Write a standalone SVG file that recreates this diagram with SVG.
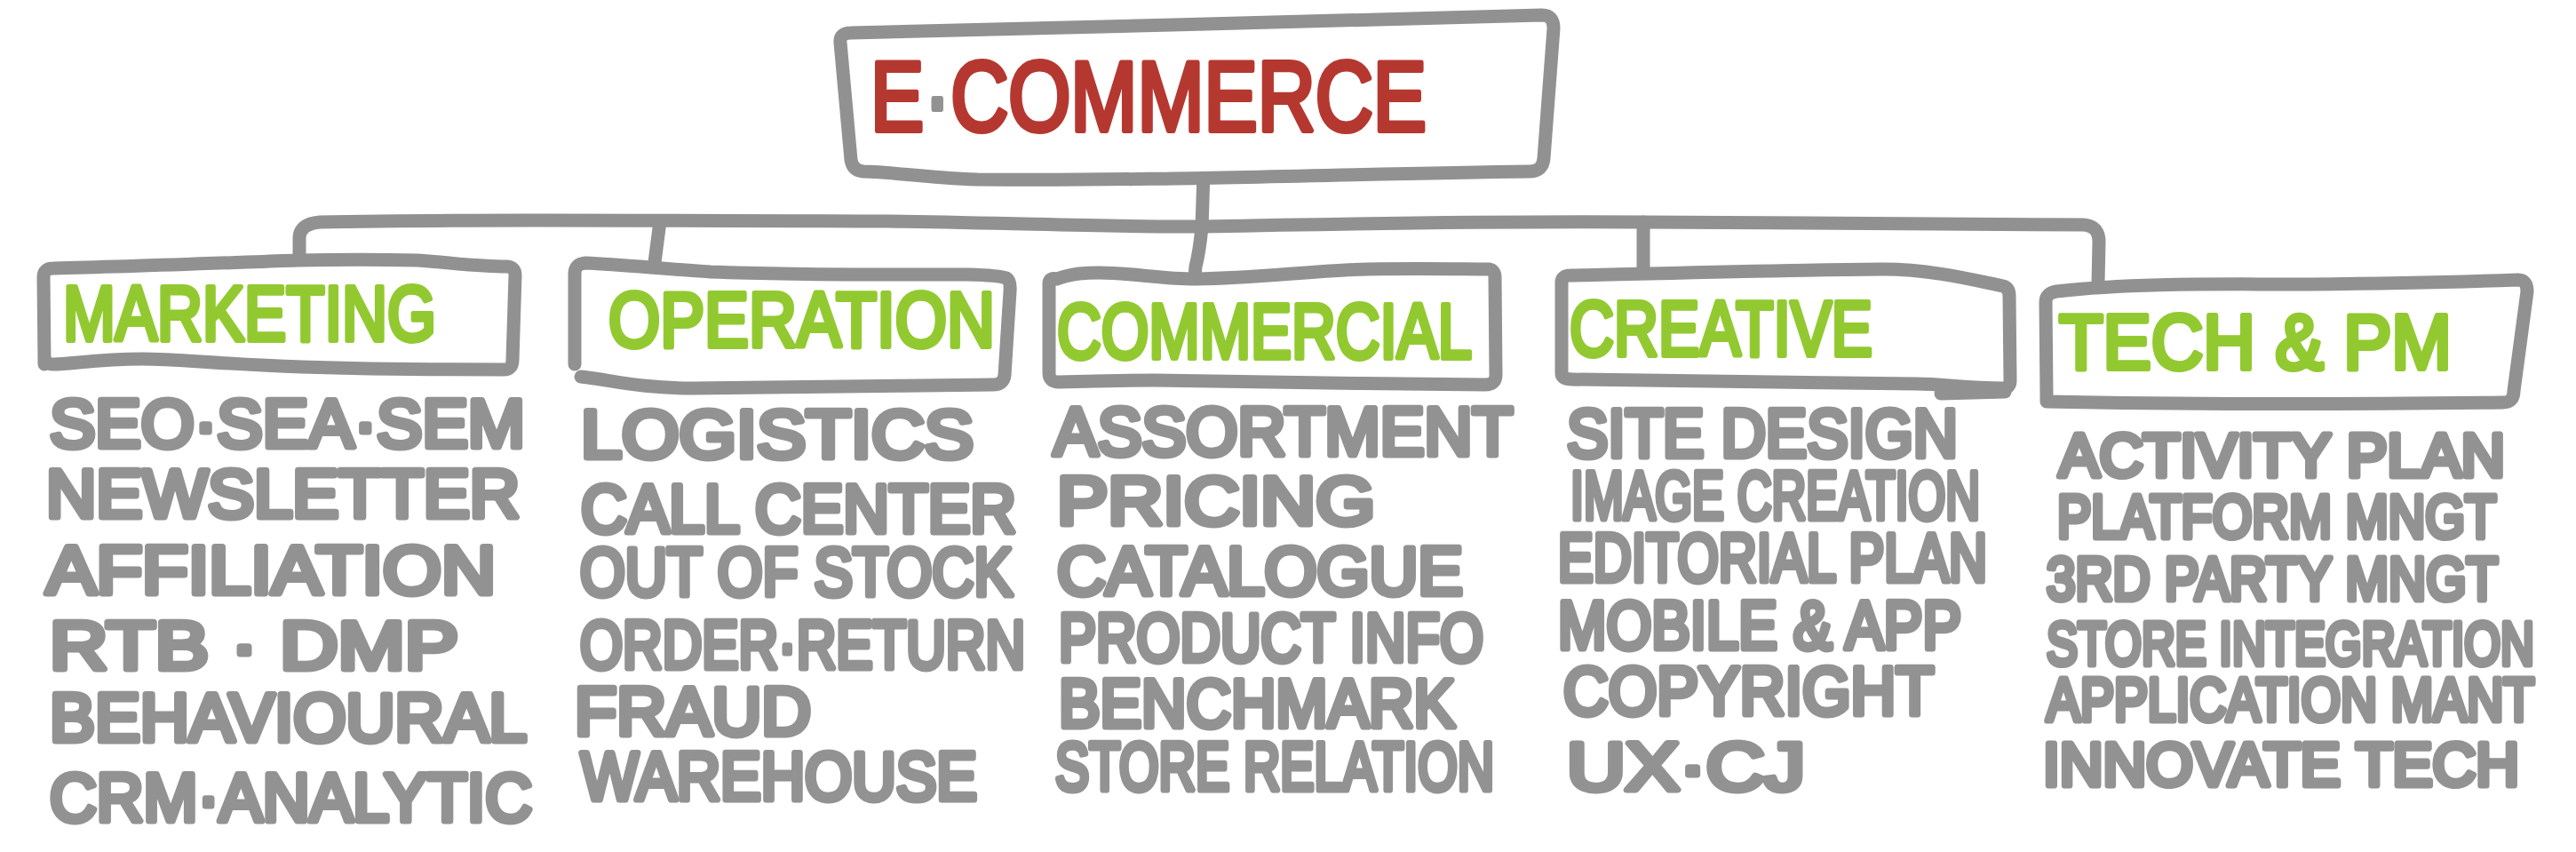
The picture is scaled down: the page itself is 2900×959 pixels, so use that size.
<svg xmlns="http://www.w3.org/2000/svg" width="2900" height="959" viewBox="0 0 2900 959">
<style>
.box{fill:#ffffff;stroke:#919191;stroke-width:15;stroke-linecap:round;stroke-linejoin:round}
.conn{fill:none;stroke:#919191;stroke-width:15;stroke-linecap:round;stroke-linejoin:round}
text{font-family:"Liberation Sans",Arial,sans-serif;stroke-linejoin:round;stroke-linecap:round}
.title{font-size:112px;fill:#b53830;stroke:#b53830;stroke-width:6}
.dot{fill:#929292;stroke:#929292}
.cat{font-size:88px;fill:#92c930;stroke:#92c930;stroke-width:6}
.item{font-size:76px;fill:#929292;stroke:#929292;stroke-width:7}
.item2{font-size:68px;fill:#929292;stroke:#929292;stroke-width:7;text-anchor:end}
</style>
<rect width="2900" height="959" fill="#ffffff"/>
<g id="connectors">
<path class="conn" d="M 337 300 L 337 268 Q 337 252 360 250 C 500 247 700 248 1000 249 C 1150 251 1250 256 1353 255 C 1500 252 1700 249 1850 250 C 2100 250 2250 252 2345 253 Q 2363 254 2363 272 L 2362 318"/>
<path class="conn" d="M 743 249 L 736 303"/>
<path class="conn" d="M 1355 194 L 1353 256 Q 1350 285 1346 300 L 1345 312"/>
<path class="conn" d="M 1850 250 L 1850 307"/>
</g>
<g id="node-ecommerce">
<path class="box" d="M 946 48 Q 945 37 958 37 C 1200 31 1500 24 1736 17 Q 1749 17 1749 32 L 1738 178 Q 1737 193 1722 193 C 1500 196 1300 204 1100 202 C 1040 200 1000 193 972 193 Q 960 192 958 180 Z"/>
<text class="title" x="980" y="147" textLength="626" lengthAdjust="spacingAndGlyphs">E<tspan class="dot">·</tspan>COMMERCE</text>
</g>
<g id="node-marketing">
<path class="box" d="M 50 410 L 49 312 Q 49 302 60 302 C 150 300 250 296 335 293 C 380 292 430 292 470 293 C 510 296 540 300 570 300 Q 580 300 580 310 L 577 405 Q 577 416 567 416 C 480 416 400 415 340 413 C 250 410 200 404 160 404 C 110 404 80 410 60 410 Q 50 410 50 400 Z"/>
<text class="cat" x="71" y="383" textLength="420" lengthAdjust="spacingAndGlyphs">MARKETING</text>
<text class="item" x="56" y="503" textLength="535" lengthAdjust="spacingAndGlyphs">SEO·SEA·SEM</text>
<text class="item" x="52" y="582" textLength="533" lengthAdjust="spacingAndGlyphs">NEWSLETTER</text>
<text class="item" x="52" y="668" textLength="506" lengthAdjust="spacingAndGlyphs">AFFILIATION</text>
<text class="item" x="56" y="753" textLength="460" lengthAdjust="spacingAndGlyphs">RTB · DMP</text>
<text class="item" x="56" y="834" textLength="537" lengthAdjust="spacingAndGlyphs">BEHAVIOURAL</text>
<text class="item" x="56" y="924" textLength="543" lengthAdjust="spacingAndGlyphs">CRM·ANALYTIC</text>
</g>
<g id="node-operation">
<path class="box" d="M 647 410 L 647 308 Q 647 297 659 296 C 700 298 740 302 800 306 C 900 310 1000 309 1090 309 Q 1125 310 1133 313 Q 1138 316 1137 328 L 1131 422 Q 1130 433 1118 433 C 1000 434 850 437 780 437 C 720 437 690 428 654 424"/>
<text class="cat" x="685" y="390" textLength="435" lengthAdjust="spacingAndGlyphs">OPERATION</text>
<text class="item" x="654" y="515" textLength="442" lengthAdjust="spacingAndGlyphs">LOGISTICS</text>
<text class="item" x="654" y="599" textLength="490" lengthAdjust="spacingAndGlyphs">CALL CENTER</text>
<text class="item" x="653" y="670" textLength="487" lengthAdjust="spacingAndGlyphs">OUT OF STOCK</text>
<text class="item" x="653" y="752" textLength="501" lengthAdjust="spacingAndGlyphs">ORDER·RETURN</text>
<text class="item" x="647" y="827" textLength="266" lengthAdjust="spacingAndGlyphs">FRAUD</text>
<text class="item" x="654" y="900" textLength="446" lengthAdjust="spacingAndGlyphs">WAREHOUSE</text>
</g>
<g id="node-commercial">
<path class="box" d="M 1181 420 L 1181 318 Q 1182 312 1190 314 Q 1200 310 1215 308 C 1260 304 1300 314 1346 314 C 1420 313 1470 305 1540 303 C 1600 302 1650 303 1676 303 Q 1683 304 1683 312 L 1684 422 Q 1684 433 1672 433 C 1550 432 1400 430 1300 428 C 1250 428 1220 429 1192 430 Q 1181 430 1181 420 Z"/>
<text class="cat" x="1190" y="403" textLength="467" lengthAdjust="spacingAndGlyphs">COMMERCIAL</text>
<text class="item" x="1186" y="512" textLength="517" lengthAdjust="spacingAndGlyphs">ASSORTMENT</text>
<text class="item" x="1190" y="590" textLength="358" lengthAdjust="spacingAndGlyphs">PRICING</text>
<text class="item" x="1190" y="669" textLength="457" lengthAdjust="spacingAndGlyphs">CATALOGUE</text>
<text class="item" x="1192" y="744" textLength="478" lengthAdjust="spacingAndGlyphs">PRODUCT INFO</text>
<text class="item" x="1192" y="818" textLength="446" lengthAdjust="spacingAndGlyphs">BENCHMARK</text>
<text class="item" x="1188" y="889" textLength="494" lengthAdjust="spacingAndGlyphs">STORE RELATION</text>
</g>
<g id="node-creative">
<path class="box" d="M 1758 420 L 1758 318 Q 1758 310 1768 310 C 1900 307 2000 304 2120 303 C 2175 303 2225 316 2255 322 Q 2262 324 2262 333 L 2263 428 Q 2263 437 2255 437 C 2213 437 2187 432 2157 432 C 2000 430 1850 427 1770 427 Q 1758 427 1758 420 Z"/>
<path class="conn" d="M 2185 443 L 2257 441"/>
<text class="cat" x="1767" y="400" textLength="341" lengthAdjust="spacingAndGlyphs">CREATIVE</text>
<text class="item" x="1764" y="514" textLength="440" lengthAdjust="spacingAndGlyphs">SITE DESIGN</text>
<text class="item" x="1768" y="584" textLength="461" lengthAdjust="spacingAndGlyphs">IMAGE CREATION</text>
<text class="item" x="1754" y="654" textLength="483" lengthAdjust="spacingAndGlyphs">EDITORIAL PLAN</text>
<text class="item" x="1754" y="730" textLength="454" lengthAdjust="spacingAndGlyphs">MOBILE &amp; APP</text>
<text class="item" x="1760" y="804" textLength="417" lengthAdjust="spacingAndGlyphs">COPYRIGHT</text>
<text class="item" x="1764" y="889" textLength="268" lengthAdjust="spacingAndGlyphs">UX·CJ</text>
</g>
<g id="node-tech">
<path class="box" d="M 2304 445 L 2303 340 Q 2303 330 2315 328 C 2400 318 2500 320 2600 320 C 2700 319 2780 317 2835 315 Q 2845 315 2845 328 L 2830 440 Q 2830 453 2818 453 C 2650 455 2450 455 2304 452 Z"/>
<text class="cat" x="2318" y="415" textLength="442" lengthAdjust="spacingAndGlyphs">TECH &amp; PM</text>
<text class="item2" x="2820" y="536" textLength="502" lengthAdjust="spacingAndGlyphs">ACTIVITY PLAN</text>
<text class="item2" x="2810" y="605" textLength="494" lengthAdjust="spacingAndGlyphs">PLATFORM MNGT</text>
<text class="item2" x="2812" y="675" textLength="508" lengthAdjust="spacingAndGlyphs">3RD PARTY MNGT</text>
<text class="item2" x="2853" y="748" textLength="549" lengthAdjust="spacingAndGlyphs">STORE INTEGRATION</text>
<text class="item2" x="2853" y="811" textLength="549" lengthAdjust="spacingAndGlyphs">APPLICATION MANT</text>
<text class="item2" x="2836" y="884" textLength="536" lengthAdjust="spacingAndGlyphs">INNOVATE TECH</text>
</g>
</svg>
